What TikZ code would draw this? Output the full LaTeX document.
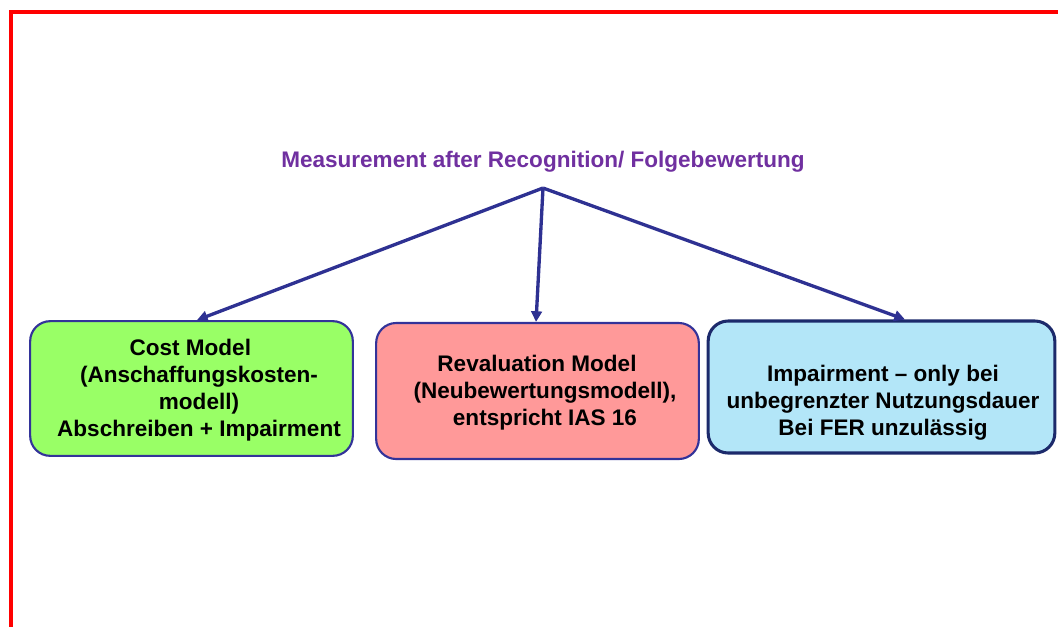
\documentclass[tikz,border=0pt]{standalone}
\usepackage{fontspec}
\setmainfont{Liberation Sans}
\usetikzlibrary{arrows.meta}
\definecolor{frameRed}{HTML}{FF0000}
\definecolor{titlePurple}{HTML}{7030A0}
\definecolor{arrowBlue}{HTML}{2E3192}
\definecolor{edgeBlue}{HTML}{333399}
\definecolor{edgeNavy}{HTML}{1C2A6B}
\definecolor{fillGreen}{HTML}{99FF66}
\definecolor{fillPink}{HTML}{FF9999}
\definecolor{fillSky}{HTML}{B3E6F8}
\tikzset{
  modelbox/.style={rounded corners=15pt, line width=1.6pt, draw=edgeBlue, inner sep=0pt},
  boxtext/.style={align=center, font=\bfseries\fontsize{16.9}{20.3}\selectfont, text=black, inner sep=0pt},
  link/.style={draw=arrowBlue, line width=2.5pt, -{Triangle[length=8pt,width=8pt]}}
}
\begin{document}
\begin{tikzpicture}[x=0.75pt,y=-0.75pt]
\useasboundingbox (0,0) rectangle (1058,626);
\draw[frameRed, line width=2.4pt] (11,640) -- (11,12) -- (1070,12);
\node[font=\bfseries\fontsize{16.9}{18}\selectfont, text=titlePurple, inner sep=0pt] (title) at (543,162) {Measurement after Recognition/ Folgebewertung};
\coordinate (apex) at (543,188);
\node[modelbox, fill=fillGreen, minimum width=242pt, minimum height=101pt] (cost) at (191.5,388.5) {};
\node[modelbox, fill=fillPink, minimum width=242pt, minimum height=102pt] (reval) at (537.5,391) {};
\node[modelbox, draw=edgeNavy, line width=2.3pt, fill=fillSky, minimum width=260pt, minimum height=99pt] (impair) at (881.5,387) {};
\node[boxtext] (costtext) at (199,390) {Cost Model\kern 13pt\\ (Anschaffungskosten-\\ modell)\\ Abschreiben + Impairment};
\node[boxtext] (revaltext) at (545,393) {Revaluation Model\kern 12pt\\ (Neubewertungsmodell),\\ entspricht IAS 16};
\node[boxtext] (impairtext) at (883,403) {Impairment -- only bei\\ unbegrenzter Nutzungsdauer\\ Bei FER unzulässig};
\draw[link] (apex) -- ([xshift=4.1pt]cost.north);
\draw[link] (apex) -- ([xshift=-1.1pt]reval.north);
\draw[link] (apex) -- ([xshift=17.6pt]impair.north);
\end{tikzpicture}
\end{document}
